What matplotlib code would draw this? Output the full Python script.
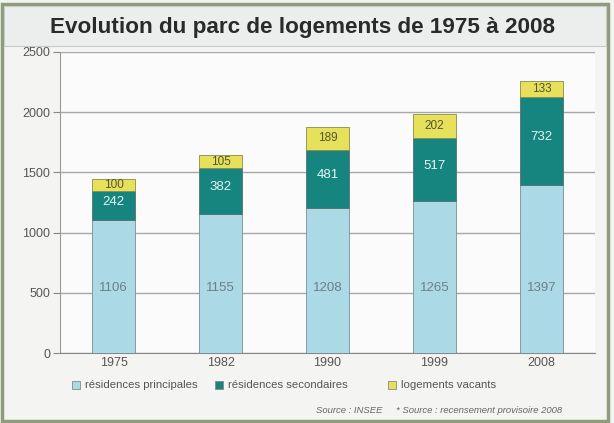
import matplotlib.pyplot as plt
import numpy as np
from matplotlib.patches import Rectangle

years = ["1975", "1982", "1990", "1999", "2008"]
principales = [1106, 1155, 1208, 1265, 1397]
secondaires = [242, 382, 481, 517, 732]
vacants = [100, 105, 189, 202, 133]

C_PRINC = "#acd9e6"
C_SEC = "#16857f"
C_VAC = "#e6e05a"

plt.rcParams["font.family"] = ["Liberation Sans", "DejaVu Sans"]

W, H = 614, 423
fig = plt.figure(figsize=(W / 100, H / 100), dpi=100)
fig.patch.set_facecolor("#f4f5f3")

# outer frame + title band
fig.patches.append(Rectangle((2 / W, 2 / H), 1 - 8 / W, 1 - 6 / H, transform=fig.transFigure,
                             fill=False, edgecolor="#8f9c7c", linewidth=2.5))
fig.patches.append(Rectangle((4 / W, 1 - 46 / H), 1 - 12 / W, 40 / H, transform=fig.transFigure,
                             facecolor="#eceeed", edgecolor="#c8cbc6", linewidth=0.8))
fig.text(50 / W, 1 - 28 / H, "Evolution du parc de logements de 1975 à 2008",
         fontsize=16.2, fontweight="bold", color="#2a2a2a", va="center", ha="left")

ax = fig.add_axes([60 / W, 1 - 353 / H, 535 / W, 301 / H])
ax.set_facecolor("#fbfbfb")
x = np.arange(len(years))
bw = 0.41
p = np.array(principales)
s = np.array(secondaires)
v = np.array(vacants)
ax.bar(x, p, bw, color=C_PRINC, edgecolor="#7a8e94", linewidth=0.6, zorder=3)
ax.bar(x, s, bw, bottom=p, color=C_SEC, edgecolor="#5a6e6e", linewidth=0.6, zorder=3)
ax.bar(x, v, bw, bottom=p + s, color=C_VAC, edgecolor="#8a8a50", linewidth=0.6, zorder=3)

for i in range(len(years)):
    ax.text(x[i], 540, str(p[i]), ha="center", va="center",
            fontsize=9.5, color="#6a8088", zorder=4)
    ax.text(x[i], p[i] + s[i] / 2 + 30, str(s[i]), ha="center", va="center",
            fontsize=9.5, color="#e6f4f2", zorder=4)
    ax.text(x[i], p[i] + s[i] + v[i] / 2, str(v[i]), ha="center", va="center",
            fontsize=8.5, color="#555530", zorder=4)

ax.set_xlim(-0.5, 4.5)
ax.set_ylim(0, 2500)
ax.set_yticks(range(0, 2501, 500))
ax.set_xticks(x)
ax.set_xticklabels(years)
ax.yaxis.grid(True, color="#a8a8a8", linewidth=1.0, zorder=1)
ax.tick_params(axis="y", length=5, color="#888888", labelsize=9, labelcolor="#555555", pad=2)
ax.tick_params(axis="x", length=0, labelsize=9, labelcolor="#555555", pad=3)
for side in ["top", "right"]:
    ax.spines[side].set_visible(False)
ax.spines["left"].set_color("#999999")
ax.spines["bottom"].set_color("#888888")

# legend
leg_y = 1 - 385 / H
items = [(C_PRINC, "résidences principales", 72), (C_SEC, "résidences secondaires", 215),
         (C_VAC, "logements vacants", 388)]
for col, lab, px in items:
    fig.patches.append(Rectangle((px / W, leg_y - 4 / H), 8 / W, 8 / H, transform=fig.transFigure,
                                 facecolor=col, edgecolor="#888888", linewidth=0.6))
    fig.text((px + 13) / W, leg_y, lab, fontsize=8.2, color="#555555", va="center", ha="left")

fig.text(316 / W, 1 - 410 / H, "Source : INSEE", fontsize=6.8, style="italic",
         color="#666666", va="center", ha="left")
fig.text(396 / W, 1 - 410 / H, "* Source : recensement provisoire 2008", fontsize=6.8,
         style="italic", color="#666666", va="center", ha="left")

fig.savefig("out.png", dpi=100, facecolor=fig.get_facecolor())
